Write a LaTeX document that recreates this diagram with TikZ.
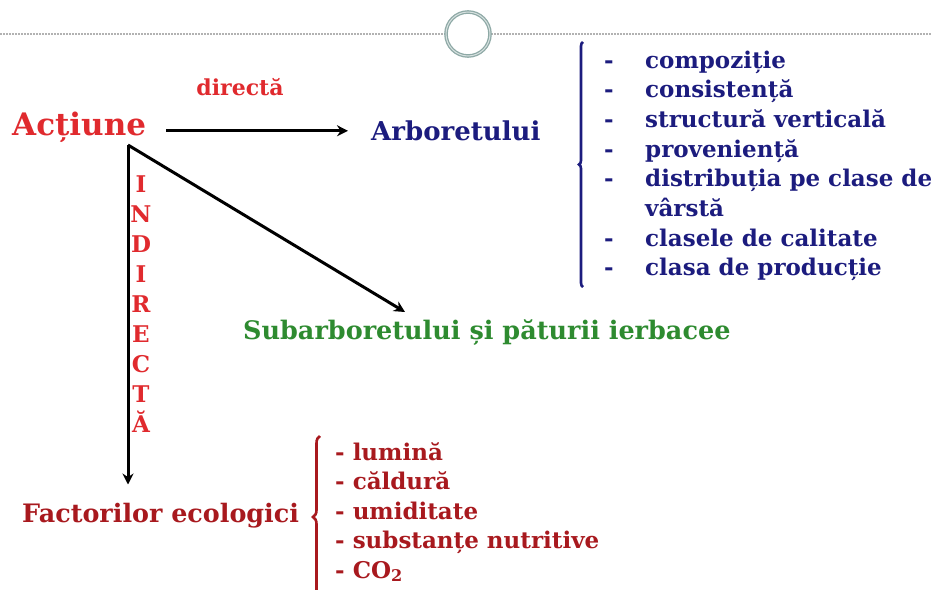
\documentclass[tikz,border=0pt]{standalone}
\usepackage{fontspec}
\setmainfont{DejaVu Serif}
\usetikzlibrary{arrows.meta,calc,decorations.pathreplacing}
\definecolor{actred}{HTML}{E02A2E}
\definecolor{darkred}{HTML}{A8191E}
\definecolor{navyblue}{HTML}{1C1C7E}
\definecolor{leafgreen}{HTML}{2E8B30}
\definecolor{ringgray}{HTML}{8EA9A6}
\newcommand{\fsz}[1]{\fontsize{#1}{#1}\selectfont\bfseries}

\begin{document}
\begin{tikzpicture}[x=1pt,y=-1pt,
  lbl/.style={inner sep=0pt, anchor=base west},
  arr/.style={-{Stealth[length=11pt,width=11pt]}, line width=3pt},
  brc/.style={decorate, decoration={brace, amplitude=#1}, line width=2.6pt}]
\useasboundingbox (0,0) rectangle (931,589);
% header rule with ring
\draw[gray!60, line width=1.5pt, dash pattern=on 2pt off 1pt] (0,34) -- (445,34);
\draw[gray!60, line width=1.5pt, dash pattern=on 2pt off 1pt] (491,34) -- (931,34);
\draw[ringgray, line width=1.3pt, double=ringgray!35, double distance=1pt] (468,34) circle [radius=22pt];
% main labels
\node[lbl, font=\fsz{31}, text=actred] (actiune) at (12,135) {Acțiune};
\node[lbl, anchor=base, font=\fsz{22}, text=actred] (directa) at (240,95) {directă};
\node[lbl, font=\fsz{26}, text=navyblue] (arbore) at (371,140) {Arboretului};
\node[lbl, font=\fsz{25.5}, text=leafgreen] (subarb) at (243,339) {Subarboretului și păturii ierbacee};
\node[lbl, font=\fsz{25.4}, text=darkred] (factori) at (22,522) {Factorilor ecologici};
% vertical word
\foreach \c [count=\i from 0] in {I,N,D,I,R,E,C,T,Ă}
  \node[lbl, anchor=base, font=\fsz{23}, text=actred] (ind-\i) at (141,{192+30*\i}) {\c};
% stand features
\foreach \t [count=\i from 0] in {compoziție, consistență, structură verticală, proveniență, distribuția pe clase de, vârstă, clasele de calitate, clasa de producție}
  \node[lbl, font=\fsz{23}, text=navyblue] (arb-\i) at (645,{68+29.7*\i}) {\t};
\foreach \i in {0,...,4,6,7}
  \node[lbl, font=\fsz{23}, text=navyblue] (dash-\i) at (604,{68+29.7*\i}) {-};
% ecological factors
\foreach \t [count=\i from 0] in {lumină, căldură, umiditate, substanțe nutritive, CO\textsubscript{2}}
  \node[lbl, font=\fsz{23}, text=darkred] (fac-\i) at (335,{460+29.5*\i}) {- \t};
% braces
\draw[brc=4pt, navyblue] (583,287) -- (583,42);
\draw[brc=7pt, darkred] (320,598) -- (320,436);
% arrows
\coordinate (split) at (128,145);
\coordinate (subtip) at (405,312);
\draw[arr, shorten <=20pt, shorten >=23pt] ([yshift=-4pt]actiune.east) -- ([yshift=-4pt]actiune.east -| arbore.west);
\draw[arr] (split) -- (subtip);
\draw[arr, shorten >=18pt] (split) -- (split |- factori.north);
\end{tikzpicture}
\end{document}
